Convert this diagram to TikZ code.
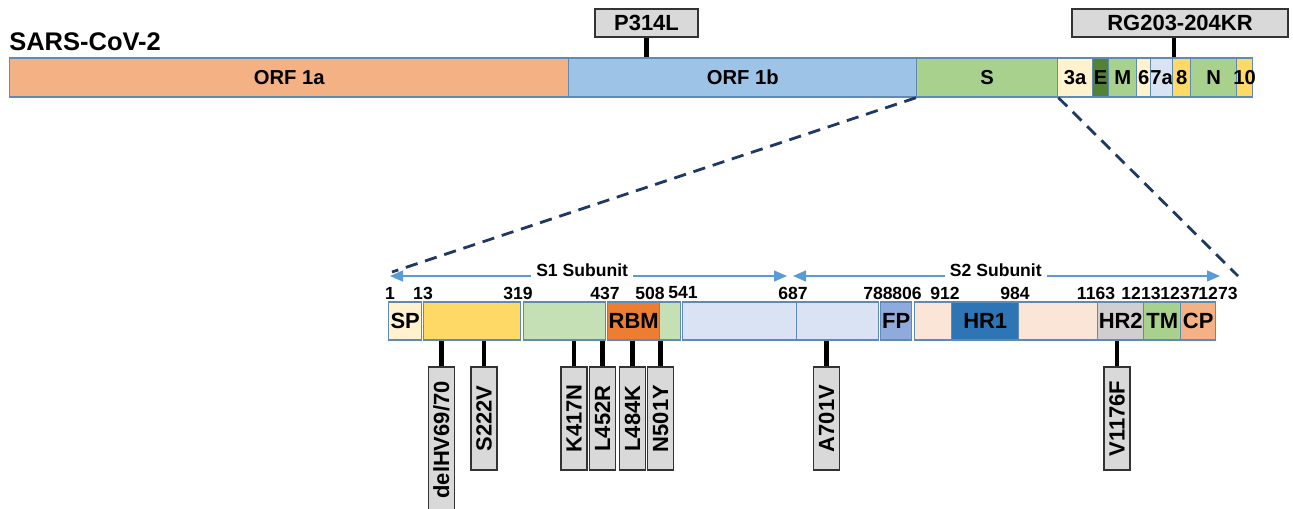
\documentclass[tikz,border=0pt]{standalone}
\usepackage{fontspec}
\setmainfont{Liberation Sans}
\usepackage{graphicx}
\usetikzlibrary{arrows.meta}

\definecolor{edge}{HTML}{5E8AB4}
\definecolor{orfA}{HTML}{F4B183}
\definecolor{orfB}{HTML}{9DC3E6}
\definecolor{gS}{HTML}{A9D18E}
\definecolor{gE}{HTML}{548235}
\definecolor{pale}{HTML}{FFF2CC}
\definecolor{lblue}{HTML}{DAE3F3}
\definecolor{gold}{HTML}{FFD966}
\definecolor{lgreen}{HTML}{C5E0B4}
\definecolor{orange}{HTML}{ED7D31}
\definecolor{fpblue}{HTML}{8FAADC}
\definecolor{peach}{HTML}{FBE5D6}
\definecolor{hrblue}{HTML}{2E75B6}
\definecolor{grayd}{HTML}{D0CECE}
\definecolor{mutgray}{HTML}{D9D9D9}
\definecolor{arrowblue}{HTML}{5B9BD5}
\definecolor{navy}{HTML}{203864}

\begin{document}
\begin{tikzpicture}[x=0.02cm, y=-0.02cm,
    seg/.style={rectangle, draw=edge, line width=0.8pt, inner sep=0pt, anchor=west},
    gen/.style={seg, minimum height=0.78cm},
    dom/.style={seg, minimum height=0.76cm},
    lbl/.style={font=\fontsize{11.5}{13}\selectfont\bfseries, inner sep=0pt},
    dlbl/.style={font=\fontsize{12.5}{14}\selectfont\bfseries, inner sep=0pt},
    num/.style={font=\fontsize{10}{12}\selectfont\bfseries, inner sep=0pt},
    title/.style={font=\fontsize{14.5}{16}\selectfont\bfseries, inner sep=0pt},
    mut/.style={rectangle, draw=black!80, fill=mutgray, line width=0.7pt,
                inner sep=0pt, font=\fontsize{12.5}{14}\selectfont\bfseries},
    mutv/.style={mut, minimum width=0.52cm, minimum height=2.06cm},
    stem/.style={line width=2.4pt},
    subarrow/.style={{Triangle[length=2.6mm,width=2.2mm]}-{Triangle[length=2.6mm,width=2.2mm]},
                     draw=arrowblue, line width=0.8pt},
    subl/.style={fill=white, text=black, inner sep=3pt, yshift=0.12cm,
                 font=\fontsize{10}{12}\selectfont\bfseries},
    zoomline/.style={draw=navy, line width=1.6pt, dash pattern=on 7pt off 4.5pt}]
  \useasboundingbox (0,0) rectangle (1293,508);

  % genome
  \node[title, anchor=west] (title) at (9,42) {SARS-CoV-2};
  \foreach \a/\b/\c/\nm/\lab in {9/568/orfA/orf1a/ORF 1a, 568/916/orfB/orf1b/ORF 1b,
      916/1057/gS/spike/S, 1057/1092/pale/orf3a/3a, 1092/1108/gE/env/E,
      1108/1136/gS/memb/M, 1136/1150/pale/orf6/6, 1150/1172/lblue/orf7a/7a,
      1172/1190/gold/orf8/8, 1190/1236/gS/nucl/N, 1236/1252/gold/orf10/10}
  {
    \node[gen, fill=\c, minimum width={(\b-\a)*0.02cm}] (\nm) at (\a,77.5) {};
    \node[lbl] at (\nm) {\lab};
  }
  \node[mut, minimum width=2.06cm, minimum height=0.56cm] (p314l) at (646.5,23) {P314L};
  \node[mut, minimum width=4.32cm, minimum height=0.56cm] (rg203) at (1180,23) {RG203-204KR};
  \draw[stem] (p314l.south) -- (p314l.south |- orf1b.north);
  \draw[stem] ([xshift=-0.12cm]rg203.south) -- ([xshift=-0.12cm]rg203.south |- orf8.north);

  % spike domains
  \foreach \a/\b/\c/\nm/\lab in {388/421/pale/sp/SP, 423/520/gold/ntd/, 523/605/lgreen/rbd/,
      607/659/orange/rbm/RBM, 659/680/lgreen/sd/, 682/796/lblue/sda/, 796/878/lblue/sdb/,
      880/911/fpblue/fp/FP, 914/951/peach/fpr/, 951/1018/hrblue/hr1/HR1,
      1018/1097/peach/ch/, 1097/1143/grayd/hr2/HR2, 1143/1180/gS/tm/TM, 1180/1215/orfA/cp/CP}
  {
    \node[dom, fill=\c, minimum width={(\b-\a)*0.02cm}] (\nm) at (\a,321) {};
    \node[dlbl] at (\nm) {\lab};
  }
  \foreach \x/\n in {390/1, 423/13, 518/319, 605/437, 650/508, 683/541, 793/687,
      878/788, 907/806, 945/912, 1015/984, 1096/1163, 1141/1213, 1180/1237, 1218/1273}
    \node[num] (n\n) at (\x,293) {\n};

  % zoom lines
  \coordinate (zl) at (392,272);
  \coordinate (zr) at (1238,276);
  \draw[zoomline] (spike.south west) -- (zl);
  \draw[zoomline] (spike.south east) -- (zr);

  % subunits
  \coordinate (s1a) at (390,276);
  \coordinate (s1b) at (787,276);
  \coordinate (s2a) at (793,276);
  \coordinate (s2b) at (1220,276);
  \draw[subarrow] (s1a) -- node[subl, pos=0.484] {S1 Subunit} (s1b);
  \draw[subarrow] (s2a) -- node[subl, pos=0.475] {S2 Subunit} (s2b);

  % mutations
  \node[mut, minimum width=0.52cm, minimum height=2.92cm] (del69) at (441.5,440)
        {\rotatebox{90}{delHV69/70}};
  \draw[stem] (del69.north) -- (del69.north |- ntd.south);
  \foreach \x/\nm/\lab/\s in {484/s222v/S222V/ntd, 574/k417n/K417N/rbd,
      602.5/l452r/L452R/rbd, 632.5/l484k/L484K/rbm, 660.5/n501y/N501Y/rbm,
      826.5/a701v/A701V/sdb, 1117/v1176f/V1176F/hr2}
  {
    \node[mutv] (\nm) at (\x,418.5) {\rotatebox{90}{\lab}};
    \draw[stem] (\nm.north) -- (\nm.north |- \s.south);
  }
\end{tikzpicture}
\end{document}
